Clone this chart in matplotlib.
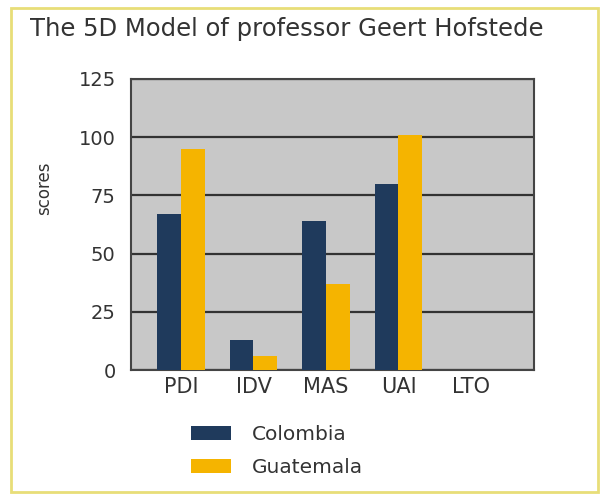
import matplotlib
matplotlib.use('Agg')
import matplotlib.pyplot as plt
from matplotlib.patches import Rectangle, Patch
import numpy as np

# данные
categories = ['PDI', 'IDV', 'MAS', 'UAI', 'LTO']
colombia = [67, 13, 64, 80, np.nan]
guatemala = [95, 6, 37, 101, np.nan]
yticks = [0, 25, 50, 75, 100, 125]

navy = '#1f3a5c'
gold = '#f5b400'
txt = '#333333'

fig = plt.figure(figsize=(6.05, 5.00), dpi=100)
fig.patch.set_facecolor('white')

# рамка вокруг рисунка
fig.patches.append(Rectangle((11/605, 1 - 492/500), 587/605, 484/500, transform=fig.transFigure,
                             fill=False, edgecolor='#e8de78', linewidth=2))

ax = fig.add_axes([131/605, 1 - 370/500, 403/605, 291/500])
ax.set_facecolor('#c8c8c8')

x = np.arange(len(categories))
w = 0.33
ax.bar(x - w/2, colombia, width=w, color=navy, zorder=3)
ax.bar(x + w/2, guatemala, width=w, color=gold, zorder=3)

ax.set_xlim(-0.69, 4.87)
ax.set_ylim(0, 125)
ax.set_yticks(yticks)
ax.set_yticklabels([str(v) for v in yticks], fontsize=14, color=txt)
ax.set_xticks(x)
ax.set_xticklabels(categories, fontsize=15, color=txt)
ax.tick_params(axis='both', length=0)
ax.tick_params(axis='y', pad=11)
ax.tick_params(axis='x', pad=5)
ax.yaxis.grid(True, color='#333333', linewidth=1.6, zorder=1)
ax.set_axisbelow(True)
for s in ax.spines.values():
    s.set_color('#444444')
    s.set_linewidth(1.5)

fig.text(30/605, 1 - 29/500, 'The 5D Model of professor Geert Hofstede', fontsize=17.5,
         color=txt, ha='left', va='center')
fig.text(44/605, 1 - 188/500, 'scores', fontsize=12, color=txt, rotation=90,
         ha='center', va='center')

handles = [Patch(facecolor=navy), Patch(facecolor=gold)]
fig.legend(handles, ['Colombia', 'Guatemala'], loc='upper left',
           bbox_to_anchor=(191/605, 1 - 425/500), frameon=False, fontsize=14.5,
           labelcolor=txt, handlelength=2.0, handleheight=0.7, handletextpad=1.0,
           labelspacing=0.7, borderpad=0, borderaxespad=0)

fig.savefig('out.png', dpi=100)
